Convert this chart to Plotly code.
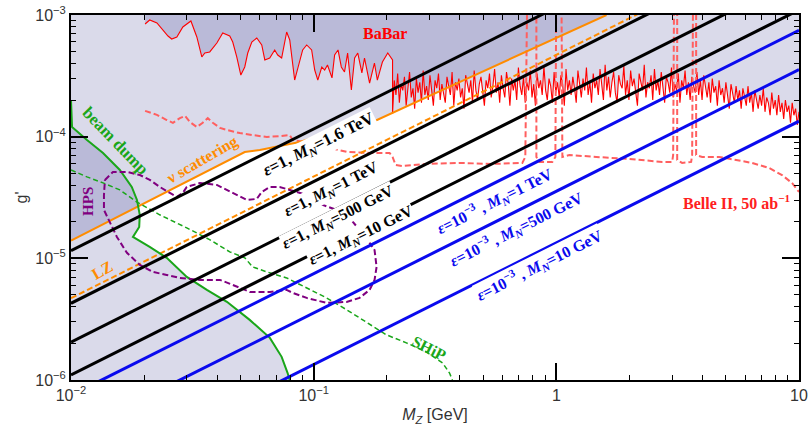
import numpy as np
import plotly.graph_objects as go

# ---------------- data (M_Z in GeV, g') ----------------
# BaBar exclusion boundary: smooth low-mass part
babar_smooth_m = [0.0202, 0.0211, 0.0226, 0.0239, 0.0251, 0.0260, 0.0273, 0.0289, 0.0312, 0.0330,
                  0.0346, 0.0356, 0.0373, 0.0399, 0.0422, 0.0451, 0.0464, 0.0482, 0.0501, 0.0520,
                  0.0535, 0.0556, 0.0583, 0.0611, 0.0629, 0.0659, 0.0691, 0.0711, 0.0738, 0.0774,
                  0.0797, 0.0835, 0.0876, 0.0901, 0.0936, 0.0981, 0.101, 0.104, 0.108, 0.111,
                  0.114, 0.119, 0.122, 0.126, 0.130, 0.134, 0.138, 0.143, 0.1475, 0.152,
                  0.158, 0.162, 0.170, 0.178, 0.183, 0.192, 0.202, 0.209, 0.2114]
babar_smooth_g = [8.44e-4, 9.10e-4, 8.60e-4, 7.53e-4, 6.72e-4, 6.35e-4, 6.60e-4, 7.97e-4, 8.93e-4, 6.60e-4,
                  4.52e-4, 4.87e-4, 4.97e-4, 5.89e-4, 7.11e-4, 6.72e-4, 6.00e-4, 4.52e-4, 3.21e-4, 3.74e-4,
                  4.87e-4, 6.00e-4, 6.47e-4, 5.67e-4, 4.27e-4, 4.43e-4, 5.16e-4, 4.69e-4, 4.43e-4, 7.25e-4,
                  6.23e-4, 2.92e-4, 4.27e-4, 5.16e-4, 5.67e-4, 5.16e-4, 3.53e-4, 2.92e-4, 3.74e-4, 3.53e-4,
                  3.88e-4, 3.04e-4, 4.69e-4, 5.16e-4, 3.74e-4, 3.40e-4, 4.87e-4, 2.42e-4, 4.43e-4, 4.87e-4,
                  3.34e-4, 4.43e-4, 2.76e-4, 4.03e-4, 2.92e-4, 4.11e-4, 4.87e-4, 4.43e-4, 4.27e-4]
# BaBar boundary above 0.21 GeV (units of 1e-4)
babar_noisy_g_e4 = [
    1.55, 2.9, 2.2, 3.3, 1.9, 2.7, 2.4, 3.1, 1.8, 2.6, 3.4, 2.1, 2.5, 1.7, 3.0, 2.3, 2.8, 1.9, 3.5, 2.2,
    2.6, 2.0, 3.2, 2.4, 1.8, 2.9, 2.5, 3.3, 2.0, 2.7, 2.3, 1.9, 3.1, 2.6, 2.2, 3.4, 1.8, 2.8, 2.4, 3.0,
    2.1, 2.5, 1.7, 3.2, 2.6, 2.3, 2.9, 1.9, 3.5, 2.4, 2.0, 2.7, 3.1, 2.2, 1.8, 2.9, 2.5, 3.3, 2.1, 2.6,
    3.6, 2.3, 2.8, 1.9, 3.2, 2.5, 2.1, 3.4, 2.7, 1.8, 3.0, 2.4, 2.9, 2.0, 3.7, 2.6, 2.2, 3.1, 1.9, 2.8,
    2.4, 3.5, 2.1, 2.7, 1.8, 3.3, 2.5, 2.9, 2.2, 3.8, 2.4, 2.0, 3.0, 2.6, 1.9, 3.4, 2.3, 2.8, 2.1, 3.2,
    2.7, 1.8, 3.6, 2.4, 2.9, 2.2, 3.1, 2.5, 1.9, 3.5, 2.6, 2.1, 3.0, 2.4, 3.7, 2.2, 2.8, 1.9, 3.3, 2.5,
    2.9, 2.2, 3.6, 2.6, 2.0, 3.9, 2.4, 3.1, 2.1, 2.8, 3.4, 2.3, 1.9, 3.2, 2.7, 2.5, 3.8, 2.2, 2.9, 2.0,
    3.5, 2.6, 3.0, 2.3, 1.8, 3.3, 2.7, 2.4, 3.9, 2.1, 2.8, 2.5, 3.2, 2.0, 3.6, 2.4, 2.9, 2.2, 3.4, 2.6,
    1.9, 3.1, 2.8, 2.3, 3.7, 2.1, 2.7, 2.4, 3.3, 1.9, 2.9, 2.5, 3.5, 2.2, 2.8, 2.0, 3.1, 2.6, 2.3, 3.4,
    2.2, 2.9, 2.0, 3.2, 2.5, 2.1, 2.8, 1.9, 3.0, 2.3, 2.6, 1.8, 2.9, 2.2, 2.5, 1.9, 2.8, 2.1, 1.7, 2.7,
    2.3, 1.9, 2.6, 2.0, 2.4, 1.7, 2.5, 2.1, 1.8, 2.6, 1.9, 2.3, 1.6, 2.4, 2.0, 1.7, 2.2, 1.8, 2.5, 1.6,
    2.1, 1.9, 1.5, 2.3, 1.7, 2.0, 1.5, 2.2, 1.6, 1.9, 1.4, 2.0, 1.6, 1.8, 1.3, 1.9, 1.5, 1.7, 1.25, 1.6]
babar_noisy_m = np.geomspace(0.2114, 10.0, len(babar_noisy_g_e4))

# Belle II 50 ab^-1 projection (dashed), with resonance vetoes
belle_m = [0.0202, 0.0226, 0.0248, 0.0263, 0.0281, 0.0295, 0.0309, 0.0330, 0.0349, 0.0366,
           0.0384, 0.0411, 0.0439, 0.0496, 0.0561, 0.0641, 0.0724, 0.0797, 0.0820, 0.0963,
           0.113, 0.137, 0.170, 0.2055, 0.2114, 0.2175, 0.2324, 0.292, 0.399, 0.545,
           0.724, 0.745, 0.760, 0.8275, 0.8275, 0.851, 0.963, 0.991, 1.0, 1.049,
           1.059, 1.131, 1.461, 1.997, 2.730, 3.001, 3.030, 3.059, 3.148, 3.148,
           3.300, 3.594, 3.628, 3.663, 3.768, 3.768, 3.990, 4.686, 5.505, 6.406,
           7.524, 8.511, 9.358, 10.0]
belle_g = [1.63e-4, 1.51e-4, 1.37e-4, 1.30e-4, 1.42e-4, 1.48e-4, 1.32e-4, 1.20e-4, 1.30e-4, 1.42e-4,
           1.30e-4, 1.18e-4, 1.135e-4, 1.07e-4, 1.03e-4, 9.94e-5, 1.01e-4, 1.03e-4, 9.39e-5, 8.87e-5,
           8.23e-5, 7.49e-5, 7.35e-5, 7.35e-5, 6.81e-5, 5.86e-5, 5.74e-5, 5.97e-5, 6.08e-5, 5.97e-5,
           6.08e-5, 6.81e-5, 2e-3, 2e-3, 6.81e-5, 6.20e-5, 6.20e-5, 6.81e-5, 2e-3, 2e-3,
           6.81e-5, 7.07e-5, 6.81e-5, 6.56e-5, 6.20e-5, 6.20e-5, 7.07e-5, 2e-3, 2e-3, 6.44e-5,
           6.08e-5, 6.20e-5, 7.07e-5, 2e-3, 2e-3, 7.07e-5, 6.81e-5, 6.81e-5, 6.44e-5, 6.08e-5,
           5.53e-5, 4.84e-5, 4.16e-5, 3.51e-5]

# neutrino scattering (solid orange)
nu_m = [0.01, 0.052, 0.060, 0.0875, 0.128, 0.175, 0.399, 0.774, 1.61]
nu_g = [1.40e-5, 7.48e-5, 7.78e-5, 9.03e-5, 1.135e-4, 1.32e-4, 2.81e-4, 5.15e-4, 1.0e-3]

# LZ (dashed orange), straight line: end points
lz_m = [0.01, 10.0]
lz_g = [4.7e-6, 4.7e-3]

# beam dump (solid green)
bd_m = [0.01, 0.0101, 0.01164, 0.01355, 0.0159, 0.0178, 0.0187, 0.0192, 0.0191, 0.0180,
        0.0211, 0.0248, 0.0300, 0.0363, 0.0439, 0.0545, 0.0660, 0.0738, 0.0781, 0.0796]
bd_g = [2.0e-4, 1.20e-4, 9.4e-5, 7.34e-5, 5.32e-5, 3.86e-5, 3.02e-5, 2.28e-5, 1.81e-5, 1.50e-5,
        1.24e-5, 1.01e-5, 7.03e-6, 5.5e-6, 4.39e-6, 3.12e-6, 2.22e-6, 1.55e-6, 1.14e-6, 1.0e-6]

# SHiP (dashed green)
ship_m = [0.01, 0.01164, 0.01355, 0.0159, 0.0187, 0.0232, 0.0300, 0.0374, 0.0451, 0.0520,
          0.0561, 0.0642, 0.0774, 0.0935, 0.113, 0.137, 0.165, 0.1995, 0.241, 0.292,
          0.340, 0.363, 0.373]
ship_g = [5.32e-5, 4.67e-5, 4.17e-5, 3.65e-5, 2.90e-5, 2.28e-5, 1.78e-5, 1.42e-5, 1.13e-5, 1.01e-5,
          8.49e-6, 7.73e-6, 6.90e-6, 5.71e-6, 4.73e-6, 3.77e-6, 3.00e-6, 2.35e-6, 2.02e-6, 1.70e-6,
          1.38e-6, 1.14e-6, 1.0e-6]

# HPS (dashed purple, closed contour)
hps_m = [0.0138, 0.01489, 0.0170, 0.01923, 0.02113, 0.02324, 0.02555, 0.0273, 0.0289, 0.0300,
         0.03396, 0.0399, 0.0464, 0.0530, 0.0583, 0.0611, 0.0659, 0.0724, 0.0797, 0.0936,
         0.1089, 0.1244, 0.1406, 0.1517, 0.1668, 0.1782, 0.1817, 0.1782, 0.1700, 0.1546,
         0.1367, 0.1131, 0.0936, 0.0820, 0.0774, 0.0659, 0.0545, 0.0464, 0.0411, 0.0340,
         0.0281, 0.0248, 0.02175, 0.01923, 0.0170, 0.01546, 0.01447, 0.01367, 0.01367, 0.0138]
hps_g = [4.41e-5, 5.13e-5, 5.13e-5, 4.84e-5, 4.41e-5, 3.86e-5, 3.45e-5, 3.20e-5, 3.45e-5, 3.86e-5,
         4.16e-5, 4.01e-5, 3.45e-5, 3.02e-5, 3.08e-5, 3.51e-5, 3.86e-5, 3.86e-5, 3.65e-5, 3.32e-5,
         2.75e-5, 2.50e-5, 2.15e-5, 1.78e-5, 1.42e-5, 1.17e-5, 8.50e-6, 6.65e-6, 5.50e-6, 4.73e-6,
         4.38e-6, 4.30e-6, 4.73e-6, 5.20e-6, 5.50e-6, 5.30e-6, 5.30e-6, 6.05e-6, 6.65e-6, 6.65e-6,
         6.90e-6, 7.30e-6, 7.73e-6, 8.83e-6, 1.11e-5, 1.50e-5, 1.95e-5, 2.50e-5, 3.32e-5, 4.41e-5]

# model lines g' ∝ M_Z : values at M_Z = 0.01 and 10 GeV
line_m = [0.01, 10.0]
black_labels = ["1.6 TeV", "1 TeV", "500 GeV", "10 GeV"]
black_g_lo = [1.156e-5, 4.27e-6, 2.05e-6, 1.10e-6]
black_g_hi = [1.156e-2, 4.27e-3, 2.05e-3, 1.10e-3]
blue_labels = ["1 TeV", "500 GeV", "10 GeV"]
blue_g_lo = [7.48e-7, 3.56e-7, 1.34e-7]
blue_g_hi = [7.48e-4, 3.56e-4, 1.34e-4]

x_ticks = [0.01, 0.1, 1, 10]
x_ticktext = ["10<sup>−2</sup>", "10<sup>−1</sup>", "1", "10"]
y_ticks = [1e-6, 1e-5, 1e-4, 1e-3]
y_ticktext = ["10<sup>−6</sup>", "10<sup>−5</sup>", "10<sup>−4</sup>", "10<sup>−3</sup>"]

# ---------------- figure ----------------
FILL = "rgba(0,0,110,0.145)"
fig = go.Figure()

babar_m = list(babar_smooth_m) + list(babar_noisy_m)
babar_g = list(babar_smooth_g) + [v * 1e-4 for v in babar_noisy_g_e4]

# shaded exclusion regions
fig.add_trace(go.Scatter(x=babar_m + [10.0, babar_m[0]], y=babar_g + [1e-3, 1e-3],
                         fill="toself", fillcolor=FILL, mode="none", hoverinfo="skip"))
fig.add_trace(go.Scatter(x=nu_m + [nu_m[0]], y=nu_g + [1e-3],
                         fill="toself", fillcolor=FILL, mode="none", hoverinfo="skip"))
fig.add_trace(go.Scatter(x=bd_m + [bd_m[0]], y=bd_g + [1e-6],
                         fill="toself", fillcolor=FILL, mode="none", hoverinfo="skip"))

# curves
fig.add_trace(go.Scatter(x=babar_m, y=babar_g, mode="lines", line=dict(color="#ff0000", width=1.1)))
fig.add_trace(go.Scatter(x=belle_m, y=belle_g, mode="lines",
                         line=dict(color="#ff5f5f", width=2, dash="6px,3px")))
fig.add_trace(go.Scatter(x=nu_m, y=nu_g, mode="lines", line=dict(color="#ff8c00", width=2)))
fig.add_trace(go.Scatter(x=lz_m, y=lz_g, mode="lines",
                         line=dict(color="#ff8c00", width=2, dash="6px,3px")))
fig.add_trace(go.Scatter(x=bd_m, y=bd_g, mode="lines", line=dict(color="#1aa61a", width=2)))
fig.add_trace(go.Scatter(x=ship_m, y=ship_g, mode="lines",
                         line=dict(color="#1aa61a", width=1.5, dash="5px,3px")))
fig.add_trace(go.Scatter(x=hps_m, y=hps_g, mode="lines",
                         line=dict(color="#800080", width=2, dash="6px,3px")))
for lo, hi in zip(black_g_lo, black_g_hi):
    fig.add_trace(go.Scatter(x=line_m, y=[lo, hi], mode="lines", line=dict(color="black", width=3)))
for lo, hi in zip(blue_g_lo, blue_g_hi):
    fig.add_trace(go.Scatter(x=line_m, y=[lo, hi], mode="lines", line=dict(color="#0a0aee", width=3)))

# ---------------- labels ----------------
SERIF = "Liberation Serif"
ANG = -26.6
def lab(text, lx, ly, color, size=15, angle=0, bg=None):
    fig.add_annotation(x=lx, y=ly, xref="x", yref="y", text="<b>" + text + "</b>",
                       showarrow=False, textangle=angle, xanchor="center", yanchor="middle",
                       font=dict(family=SERIF, size=size, color=color),
                       bgcolor=bg, borderpad=0)

# positions are log10(M_Z), log10(g')
black_pos = [(-0.975, -4.072), (-0.926, -4.438), (-0.897, -4.668), (-0.8025, -4.816)]
black_size = [17, 16, 16, 16]
for t, (px, py), s in zip(black_labels, black_pos, black_size):
    lab("<i>ε</i>=1, <i>M<sub>N</sub></i>=" + t, px, py, "black", s, ANG, "white")
blue_pos = [(-0.255, -4.528), (-0.165, -4.758), (-0.070, -5.054)]
for t, (px, py) in zip(blue_labels, blue_pos):
    lab("<i>ε</i>=10<sup>−3</sup> , <i>M<sub>N</sub></i>=" + t, px, py, "#0a0aee", 16, ANG, "white")

lab("BaBar", -0.708, -3.156, "#ff0000", 16)
lab("Belle II, 50 ab<sup>−1</sup>", 0.745, -4.537, "#ff2020", 16)
lab("ν scattering", -1.461, -4.191, "#ff8c00", 16, -30)
lab("beam dump", -1.819, -4.035, "#1aa61a", 17, 46)
lab("HPS", -1.930, -4.528, "#800080", 15, -90)
lab("LZ", -1.872, -5.104, "#ff8c00", 16, -30)
lab("SHiP", -0.523, -5.744, "#1aa61a", 16, 27)

minor_x = [k * 10.0 ** e for e in (-2, -1, 0) for k in range(2, 10)]
minor_y = [k * 10.0 ** e for e in (-6, -5, -4) for k in range(2, 10)]
TICKFONT = dict(family="Liberation Sans", size=16, color="#333333")

fig.update_layout(
    width=811, height=431, showlegend=False,
    margin=dict(l=71, r=12, t=15, b=51, autoexpand=False),
    paper_bgcolor="white", plot_bgcolor="white",
    xaxis=dict(type="log", range=[-2, 1], tickvals=x_ticks, ticktext=x_ticktext,
               ticks="inside", ticklen=17, tickwidth=2, tickcolor="black",
               showline=True, linewidth=2, linecolor="black", mirror="allticks",
               showgrid=False, zeroline=False, tickfont=TICKFONT, automargin=False,
               minor=dict(tickvals=minor_x, ticks="inside", ticklen=5, tickwidth=1,
                          tickcolor="black", showgrid=False),
               title=dict(text="<i>M<sub>Z</sub></i> [GeV]", font=TICKFONT, standoff=6)),
    yaxis=dict(type="log", range=[-6, -3], tickvals=y_ticks, ticktext=y_ticktext,
               ticks="inside", ticklen=17, tickwidth=2, tickcolor="black",
               showline=True, linewidth=2, linecolor="black", mirror="allticks",
               showgrid=False, zeroline=False, tickfont=TICKFONT, automargin=False,
               minor=dict(tickvals=minor_y, ticks="inside", ticklen=5, tickwidth=1,
                          tickcolor="black", showgrid=False),
               title=dict(text="g'", font=TICKFONT, standoff=4)),
)

# remove the browser's default page margin so the figure fills the window exactly
fig.write_html("out.html", config={"displayModeBar": False},
               post_script="document.body.style.margin='0px';")
